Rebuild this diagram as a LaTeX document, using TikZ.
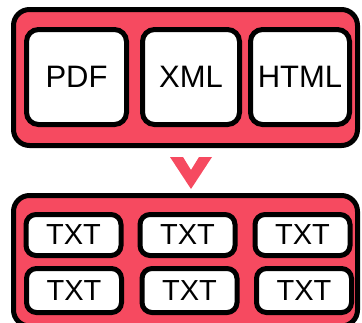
\documentclass[tikz,border=0pt]{standalone}
\usepackage{fontspec}
\setmainfont{Liberation Sans}
\usepackage{xcolor}
\usepackage{tikz}
\usetikzlibrary{positioning}

\definecolor{boxred}{HTML}{F64A60}

\begin{document}
\begin{tikzpicture}[x=1pt,y=-1pt,
    outer/.style={draw=black,line width=5pt,fill=boxred,rounded corners=16pt},
    doc/.style={draw=black,line width=5pt,fill=white,rounded corners=12pt,
      inner sep=0pt,font=\fontsize{31}{31}\selectfont},
    txt/.style={draw=black,line width=5pt,fill=white,rounded corners=10pt,
      inner sep=0pt,minimum width=95pt,font=\fontsize{29}{29}\selectfont}]
  \useasboundingbox (0,0) rectangle (362,322);
  % the source formats
  \draw[outer] (13.5,9.5) rectangle (357.5,145.5);
  \node[doc,minimum width=100pt,minimum height=95pt] (pdf) at (76.5,77) {PDF};
  \node[doc,minimum width=97pt,minimum height=95pt] (xml) at (191,77) {XML};
  \node[doc,minimum width=99pt,minimum height=95pt] (html) at (300,77) {HTML};
  % chevron pointing down
  \fill[boxred] (170,157) -- (183,157) -- (191,170) -- (199,157)
      -- (212,157) -- (191,189) -- cycle;
  % the plain text output
  \draw[outer] (13.5,195.5) rectangle (357.5,326);
  \node[txt,minimum height=41pt] (t1) at (73.5,235) {TXT};
  \node[txt,minimum height=41pt] (t2) at (187.5,235) {TXT};
  \node[txt,minimum height=41pt] (t3) at (302.5,235) {TXT};
  \node[txt,minimum height=44pt] (t4) at (74,290.5) {TXT};
  \node[txt,minimum height=44pt] (t5) at (189.5,290.5) {TXT};
  \node[txt,minimum height=44pt] (t6) at (304,290.5) {TXT};
\end{tikzpicture}
\end{document}
